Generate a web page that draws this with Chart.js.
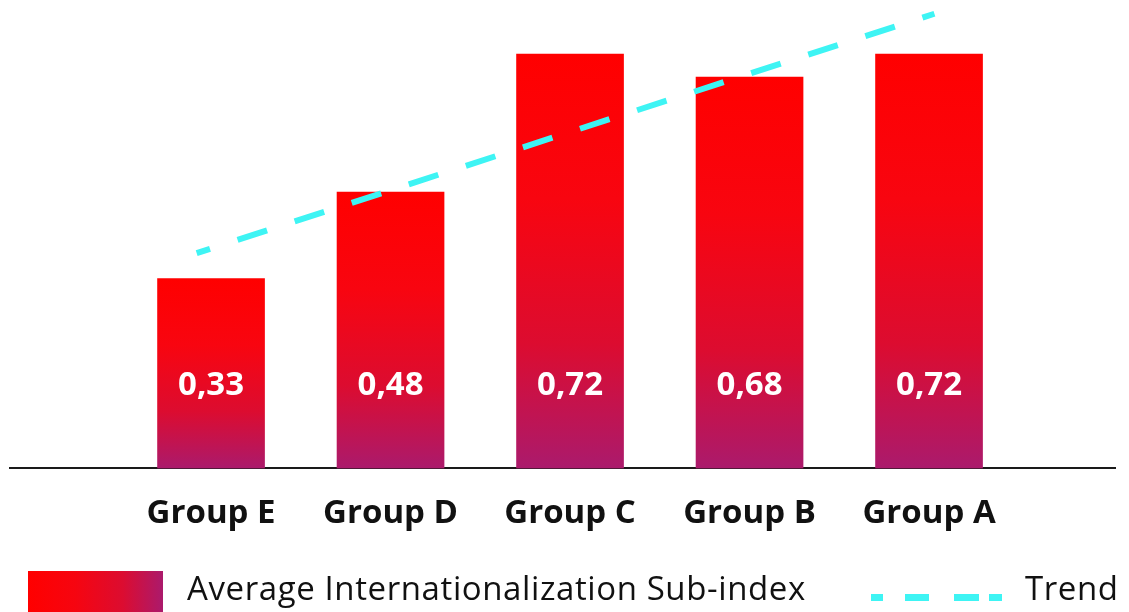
<!DOCTYPE html>
<html>
<head>
<meta charset="utf-8">
<script src="https://cdn.jsdelivr.net/npm/chart.js@4/dist/chart.umd.min.js"></script>
<style>
  html, body { margin: 0; padding: 0; background: #fff; overflow: hidden; }
  #wrap { position: relative; width: 1129px; height: 612px; }
  #box { position: absolute; left: 0; top: 0; width: 1129px; height: 570px; }
  .legend-item { position: absolute; }
  .lbl { font-family: 'Open Sans', sans-serif; font-size: 33px; letter-spacing: 0.6px; line-height: 38px; color: #111; white-space: nowrap; }
</style>
</head>
<body>
<div id="wrap">
  <div id="box"><canvas id="chart"></canvas></div>
  <!-- Legend -->
  <div class="legend-item" style="left:28px; top:571px; width:135px; height:45px; background:linear-gradient(to right, #ff0000 0%, #f60510 35%, #dc0c30 70%, #ab1a6c 100%);"></div>
  <div class="legend-item lbl" style="left:187px; top:569px;">Average Internationalization Sub-index</div>
  <div class="legend-item" style="left:871px; top:594px; width:131px; height:7px; background:linear-gradient(to right, #3ef4f4 0 12px, transparent 12px 34px, #3ef4f4 34px 58px, transparent 58px 83px, #3ef4f4 83px 108px, transparent 108px 118px, #3ef4f4 118px 131px);"></div>
  <div class="legend-item lbl" style="left:1025px; top:569px;">Trend</div>
</div>
<script>
// Chart data
const groups = ['Group E', 'Group D', 'Group C', 'Group B', 'Group A'];
const groupPos = [1, 2, 3, 4, 5];
const subIndex = [0.33, 0.48, 0.72, 0.68, 0.72];
// trend line end points
const trendX = [0.92, 5.03];
const trendValues = [0.374, 0.79];

// Vertical red -> purple fill, one gradient per bar
function barGradient(context) {
    const chart = context.chart;
    if (!chart.chartArea || context.type !== 'data') return '#ff0000';
    const y = chart.scales.y;
    const top = y.getPixelForValue(context.parsed.y);
    const base = y.getPixelForValue(0);
    const g = chart.ctx.createLinearGradient(0, top, 0, base);
    g.addColorStop(0, '#ff0000');
    g.addColorStop(0.35, '#f80510');
    g.addColorStop(0.7, '#dc0c30');
    g.addColorStop(1, '#ab1a6c');
    return g;
}

// White value labels near the bottom of each bar
const valueLabels = {
    id: 'valueLabels',
    afterDatasetsDraw(chart) {
        const ctx = chart.ctx;
        const meta = chart.getDatasetMeta(0);
        ctx.save();
        ctx.font = 'bold 33px "Open Sans", sans-serif';
        ctx.fillStyle = '#ffffff';
        ctx.textAlign = 'center';
        ctx.textBaseline = 'middle';
        meta.data.forEach((bar, i) => {
            ctx.fillText(subIndex[i].toFixed(2).replace('.', ','), bar.x, bar.base - 83);
        });
        ctx.restore();
    }
};

const ctx = document.getElementById('chart').getContext('2d');
new Chart(ctx, {
    type: 'bar',
    data: {
        datasets: [
            {
                label: 'Average Internationalization Sub-index',
                data: groupPos.map((x, i) => ({ x: x, y: subIndex[i] })),
                backgroundColor: barGradient,
                barThickness: 107,
                order: 2
            },
            {
                type: 'line',
                label: 'Trend',
                data: trendX.map((x, i) => ({ x: x, y: trendValues[i] })),
                borderColor: '#3ef4f4',
                borderWidth: 6,
                borderDash: [31, 29],
                borderDashOffset: 17,
                borderCapStyle: 'butt',
                pointRadius: 0,
                fill: false,
                order: 1
            }
        ]
    },
    options: {
        responsive: true,
        maintainAspectRatio: false,
        animation: false,
        layout: { padding: { left: 10, right: 14, top: 8, bottom: 12 } },
        plugins: {
            legend: { display: false },
            tooltip: { enabled: false }
        },
        scales: {
            x: {
                type: 'linear',
                offset: false,
                min: -0.12,
                max: 6.036,
                grid: { display: false, drawTicks: false },
                border: { display: true, color: '#1a1a1a', width: 2 },
                afterBuildTicks: axis => { axis.ticks = groupPos.map(v => ({ value: v })); },
                ticks: {
                    padding: 25,
                    autoSkip: false,
                    maxRotation: 0,
                    color: '#111',
                    font: { family: 'Open Sans', size: 33, weight: 'bold' },
                    callback: value => groups[groupPos.indexOf(value)] || ''
                }
            },
            y: {
                display: false,
                min: 0,
                max: 0.8
            }
        }
    },
    plugins: [valueLabels]
});
</script>
</body>
</html>
